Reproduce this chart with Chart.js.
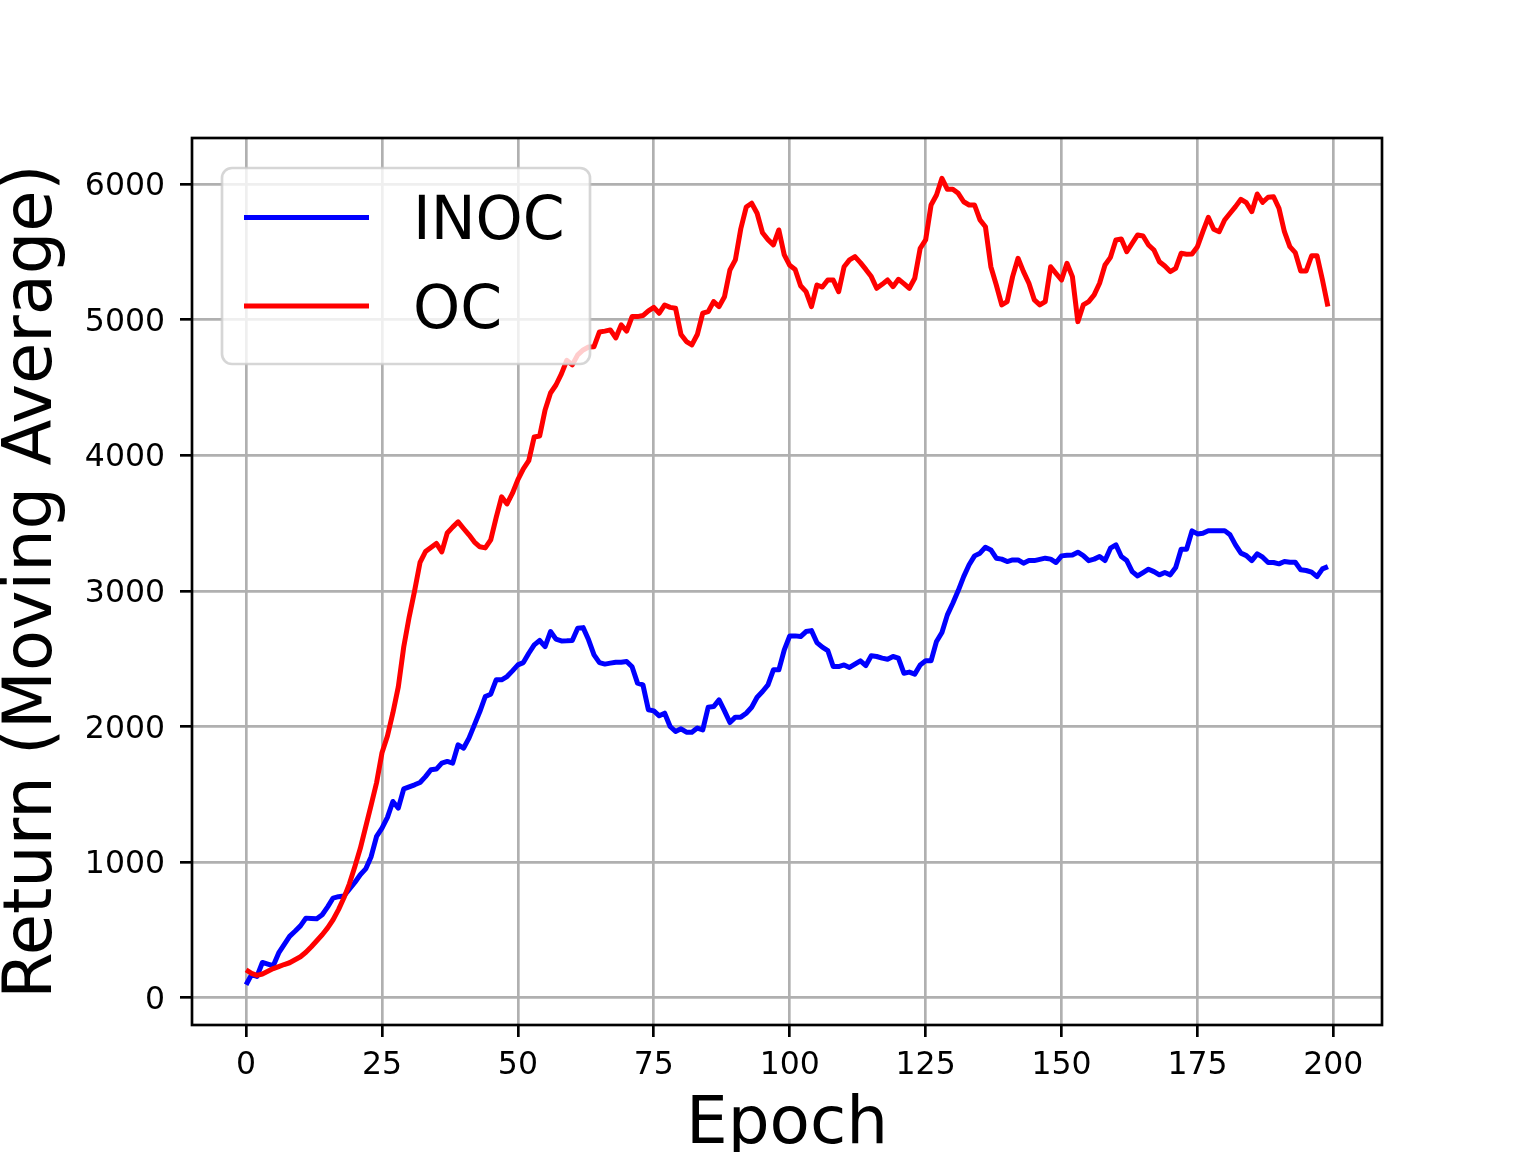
<!DOCTYPE html>
<html><head><meta charset="utf-8">
<script src="https://cdn.jsdelivr.net/npm/chart.js@4.4.1/dist/chart.umd.min.js"></script>
<style>html,body{margin:0;padding:0;background:#fff;}canvas{display:block;}</style>
</head><body>
<canvas id="c" width="1536" height="1152"></canvas>
<script>
const seriesNames = ['INOC', 'OC'];
const xTicks = [0, 25, 50, 75, 100, 125, 150, 175, 200];
const yTicks = [0, 1000, 2000, 3000, 4000, 5000, 6000];
const inoc = [96,170,157,260,248,236,330,391,452,490,
530,587,585,582,612,670,735,745,750,800,
850,907,950,1040,1189,1250,1330,1447,1398,1540,
1555,1570,1587,1630,1681,1686,1730,1742,1730,1865,
1840,1914,2012,2110,2221,2238,2344,2344,2368,2410,
2454,2471,2540,2602,2634,2589,2700,2644,2631,2632,
2634,2725,2729,2639,2528,2471,2460,2467,2474,2474,
2479,2440,2320,2307,2123,2115,2079,2098,2000,1963,
1983,1958,1958,1988,1975,2142,2147,2196,2115,2029,
2069,2069,2098,2142,2216,2258,2307,2418,2418,2565,
2668,2668,2663,2700,2707,2619,2585,2560,2442,2442,
2454,2435,2460,2484,2449,2521,2516,2504,2496,2516,
2504,2393,2401,2386,2454,2484,2484,2627,2693,2823,
2909,3002,3105,3192,3258,3278,3322,3302,3241,3234,
3216,3228,3228,3204,3223,3223,3232,3241,3234,3209,
3258,3262,3265,3285,3260,3223,3234,3253,3223,3315,
3339,3253,3223,3142,3110,3135,3160,3142,3118,3135,
3118,3172,3307,3307,3442,3420,3425,3444,3444,3444,
3444,3413,3339,3278,3260,3223,3273,3248,3209,3209,
3199,3216,3211,3211,3155,3150,3138,3105,3162,3179];
const oc = [206,180,165,175,195,215,230,245,258,280,
302,335,376,420,464,515,575,650,737,840,
966,1100,1260,1420,1585,1806,1930,2100,2292,2587,
2808,3000,3210,3290,3320,3350,3287,3427,3470,3509,
3460,3413,3360,3325,3317,3376,3540,3693,3641,3720,
3820,3900,3960,4135,4142,4334,4459,4518,4600,4700,
4666,4740,4776,4798,4800,4909,4915,4924,4865,4961,
4915,5022,5022,5030,5065,5090,5047,5108,5090,5084,
4890,4838,4813,4890,5047,5059,5133,5096,5169,5366,
5440,5670,5830,5858,5784,5640,5590,5551,5661,5477,
5400,5370,5250,5206,5096,5255,5240,5292,5292,5206,
5390,5440,5464,5420,5370,5317,5231,5260,5292,5243,
5297,5265,5231,5305,5526,5587,5845,5919,6042,5961,
5961,5931,5869,5845,5845,5735,5685,5390,5255,5108,
5133,5317,5452,5354,5268,5145,5108,5133,5390,5340,
5292,5415,5317,4985,5108,5133,5182,5268,5403,5459,
5587,5594,5501,5563,5624,5616,5550,5513,5427,5395,
5354,5378,5489,5482,5484,5538,5648,5754,5666,5648,
5734,5784,5833,5887,5862,5796,5926,5865,5902,5906,
5821,5648,5538,5494,5359,5359,5471,5471,5292,5096];

const FONT = '"DejaVu Sans", sans-serif';
const LW = 2.67;

const frameAndLegend = {
  id: 'frameAndLegend',
  afterDatasetsDraw(chart) {
    const ctx = chart.ctx, a = chart.chartArea;
    ctx.save();
    ctx.strokeStyle = '#000';
    ctx.lineWidth = LW;
    ctx.lineJoin = 'miter';
    ctx.strokeRect(a.left, a.top, a.right - a.left, a.bottom - a.top);
    // legend
    const bx = a.left + 30, by = a.top + 30, bw = 368, bh = 196, r = 10;
    ctx.beginPath();
    ctx.moveTo(bx + r, by);
    ctx.arcTo(bx + bw, by, bx + bw, by + bh, r);
    ctx.arcTo(bx + bw, by + bh, bx, by + bh, r);
    ctx.arcTo(bx, by + bh, bx, by, r);
    ctx.arcTo(bx, by, bx + bw, by, r);
    ctx.closePath();
    ctx.fillStyle = 'rgba(255,255,255,0.8)';
    ctx.fill();
    ctx.strokeStyle = 'rgba(204,204,204,0.8)';
    ctx.lineWidth = LW;
    ctx.stroke();
    const rows = [a.top + 79.5, a.top + 168];
    chart.data.datasets.forEach((ds, i) => {
      const y = rows[i];
      ctx.beginPath();
      ctx.strokeStyle = ds.borderColor;
      ctx.lineWidth = 5;
      ctx.lineCap = 'butt';
      ctx.moveTo(a.left + 52, y);
      ctx.lineTo(a.left + 177, y);
      ctx.stroke();
      ctx.fillStyle = '#000';
      ctx.font = '60px ' + FONT;
      ctx.textBaseline = 'alphabetic';
      ctx.textAlign = 'left';
      ctx.fillText(ds.label, a.left + 221, y + 21.5);
    });
    ctx.restore();
  }
};

const toXY = arr => arr.map((v, i) => ({x: i, y: v}));

new Chart(document.getElementById('c'), {
  type: 'line',
  data: {
    datasets: [
      {label: seriesNames[0], data: toXY(inoc), borderColor: '#0000ff', order: 1},
      {label: seriesNames[1], data: toXY(oc), borderColor: '#ff0000', order: 0}
    ]
  },
  options: {
    responsive: false,
    animation: false,
    devicePixelRatio: 1,
    layout: {padding: {left: 0, top: 138, right: 154, bottom: 0}},
    elements: {
      line: {borderWidth: 5, tension: 0, borderJoinStyle: 'round', borderCapStyle: 'butt', fill: false},
      point: {radius: 0, hoverRadius: 0}
    },
    plugins: {legend: {display: false}, tooltip: {enabled: false}},
    scales: {
      x: {
        type: 'linear', min: -9.95, max: 208.95,
        afterBuildTicks: s => { s.ticks = xTicks.map(v => ({value: v})); },
        afterFit: s => { s.height = 127; },
        border: {display: false},
        grid: {color: '#b0b0b0', lineWidth: LW, drawTicks: true, tickLength: 12, tickColor: '#000', tickWidth: LW},
        ticks: {color: '#000', font: {family: FONT, size: 31.5}, padding: 10, maxRotation: 0, autoSkip: false,
                callback: v => String(v)},
        title: {display: true, text: 'Epoch', color: '#000', font: {family: FONT, size: 66, lineHeight: 0.8}, padding: {top: 0, bottom: 0}}
      },
      y: {
        type: 'linear', min: -201, max: 6339,
        afterBuildTicks: s => { s.ticks = yTicks.map(v => ({value: v})); },
        afterFit: s => { s.width = 192; },
        border: {display: false},
        grid: {color: '#b0b0b0', lineWidth: LW, drawTicks: true, tickLength: 12, tickColor: '#000', tickWidth: LW},
        ticks: {color: '#000', font: {family: FONT, size: 31.5}, padding: 15, labelOffset: 3, autoSkip: false,
                callback: v => String(v)},
        title: {display: true, text: 'Return (Moving Average)', color: '#000', font: {family: FONT, size: 67, lineHeight: 0.8}, padding: {top: 7, bottom: 0}}
      }
    }
  },
  plugins: [frameAndLegend]
});
</script>
</body></html>
